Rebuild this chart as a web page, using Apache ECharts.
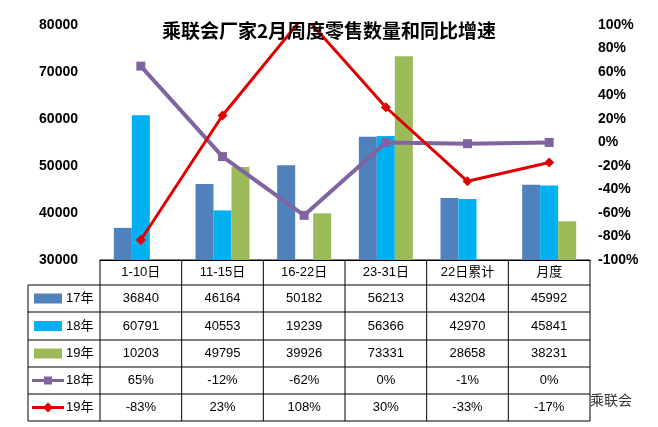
<!DOCTYPE html>
<html><head><meta charset="utf-8">
<script src="https://cdn.jsdelivr.net/npm/echarts@6/dist/echarts.min.js"></script>
<style>html,body{margin:0;padding:0;background:#fff}#c{width:658px;height:427px}</style>
</head><body><div id="c"></div>
<script>
const categories = ['1-10日','11-15日','16-22日','23-31日','22日累计','月度'];
const s17 = [36840,46164,50182,56213,43204,45992];
const s18 = [60791,40553,19239,56366,42970,45841];
const s19 = [10203,49795,39926,73331,28658,38231];
const g18 = [65,-12,-62,0,-1,0];
const g19 = [-83,23,108,30,-33,-17];
const leftTicks = [30000,80000,10000];

const G = {left:100, right:68, top:25, bottom:167};
const W = 658, plotW = W - G.left - G.right;
const colW = plotW / categories.length;
const rowsY = [260, 285, 312, 340, 367, 394, 421];
const font = 'Arial, "Noto Sans CJK SC", sans-serif';
const el = [];
const lc = '#000';
rowsY.forEach((y,i)=>{ el.push({type:'line',shape:{x1:i===0?G.left:28,y1:y,x2:G.left+plotW,y2:y},style:{stroke:lc,lineWidth:1}}); });
for(let i=0;i<=categories.length;i++){const x=G.left+i*colW; el.push({type:'line',shape:{x1:x,y1:rowsY[0],x2:x,y2:rowsY[6]},style:{stroke:lc,lineWidth:1}});}
el.push({type:'line',shape:{x1:28,y1:rowsY[1],x2:28,y2:rowsY[6]},style:{stroke:lc,lineWidth:1}});
const mid = i => (rowsY[i]+rowsY[i+1])/2;
categories.forEach((c,i)=>el.push({type:'text',x:G.left+(i+0.5)*colW,y:mid(0),style:{text:c,font:'13px '+font,fill:'#000',align:'center',verticalAlign:'middle'}}));
const rows = [
 {name:'17年',vals:s17.map(String),kind:'bar',color:'#4F81BD'},
 {name:'18年',vals:s18.map(String),kind:'bar',color:'#00B0F0'},
 {name:'19年',vals:s19.map(String),kind:'bar',color:'#9BBB59'},
 {name:'18年',vals:g18.map(v=>v+'%'),kind:'line',color:'#8064A2'},
 {name:'19年',vals:g19.map(v=>v+'%'),kind:'line',color:'#E00000'}];
rows.forEach((r,k)=>{
  const y=mid(k+1);
  if(r.kind==='bar') el.push({type:'rect',shape:{x:34,y:y-5,width:28,height:10},style:{fill:r.color}});
  else { el.push({type:'line',shape:{x1:32,y1:y,x2:64,y2:y},style:{stroke:r.color,lineWidth:3}});
    el.push(k===3?{type:'rect',shape:{x:44,y:y-4,width:8,height:8},style:{fill:r.color}}:{type:'polygon',shape:{points:[[48,y-5],[53,y],[48,y+5],[43,y]]},style:{fill:r.color}}); }
  el.push({type:'text',x:66,y:y,style:{text:r.name,font:'13px '+font,fill:'#000',verticalAlign:'middle'}});
  r.vals.forEach((v,i)=>el.push({type:'text',x:G.left+(i+0.5)*colW,y:y,style:{text:v,font:'13px '+font,fill:'#000',align:'center',verticalAlign:'middle'}}));
});
el.push({type:'text',x:590,y:400,style:{text:'乘联会',font:'14px "Noto Sans CJK SC"',fill:'#333',verticalAlign:'middle'}});

const chart = echarts.init(document.getElementById('c'));
chart.setOption({
  animation:false,
  title:{text:'乘联会厂家2月周度零售数量和同比增速',left:'center',top:16,textStyle:{fontSize:19,fontWeight:'bold',color:'#000',fontFamily:'"Noto Sans CJK SC"'}},
  grid:{left:G.left,right:G.right,top:G.top,bottom:G.bottom},
  xAxis:{type:'category',data:categories,axisLabel:{show:false},axisTick:{show:false},axisLine:{onZero:false,lineStyle:{color:'#000'}}},
  yAxis:[
   {type:'value',min:leftTicks[0],max:leftTicks[1],interval:leftTicks[2],splitLine:{show:false},axisLine:{show:false},axisTick:{show:false},
    axisLabel:{color:'#000',fontSize:14,fontWeight:'bold',fontFamily:font,margin:22,formatter:v=>String(v)}},
   {type:'value',min:-100,max:100,interval:20,splitLine:{show:false},axisLine:{show:false},axisTick:{show:false},
    axisLabel:{color:'#000',fontSize:14,fontWeight:'bold',fontFamily:font,formatter:'{value}%',margin:8}}],
  series:[
   {type:'bar',data:s17,itemStyle:{color:'#4F81BD'},barWidth:18,barGap:'0%'},
   {type:'bar',data:s18,itemStyle:{color:'#00B0F0'},barWidth:18},
   {type:'bar',data:s19,itemStyle:{color:'#9BBB59'},barWidth:18},
   {type:'line',yAxisIndex:1,data:g18,lineStyle:{color:'#8064A2',width:4},itemStyle:{color:'#8064A2'},symbol:'rect',symbolSize:9},
   {type:'line',yAxisIndex:1,data:g19,lineStyle:{color:'#E00000',width:3},itemStyle:{color:'#E00000'},symbol:'diamond',symbolSize:10}],
  graphic:{elements:el}
});
</script></body></html>
